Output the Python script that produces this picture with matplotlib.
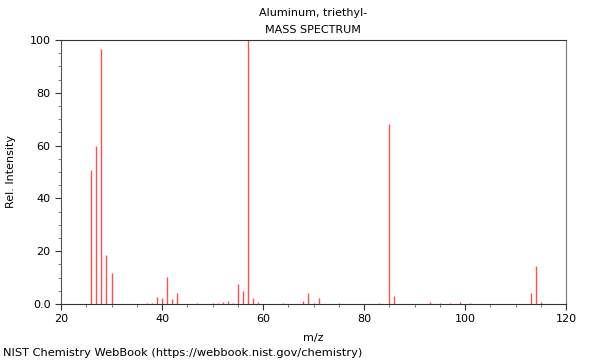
import matplotlib
matplotlib.use("Agg")
import matplotlib.pyplot as plt
from matplotlib.ticker import MultipleLocator, FixedLocator, FixedFormatter

title_compound = "Aluminum, triethyl-"
title_kind = "MASS SPECTRUM"
mz = [26, 27, 28, 29, 30, 37, 38, 39, 40, 41, 42, 43, 47, 50, 51, 52, 53, 54,
      55, 56, 57, 58, 59, 64, 68, 69, 70, 71, 75, 83, 85, 86, 93, 95, 97, 99,
      101, 113, 114, 115]
intensity = [50.8, 60.0, 96.6, 18.6, 11.7, 0.5, 0.4, 2.8, 2.3, 10.4, 2.0, 4.2,
             0.2, 0.3, 0.2, 0.6, 1.3, 0.5, 7.6, 5.0, 100.0, 2.3, 0.6, 0.3, 1.3,
             4.3, 0.3, 2.3, 0.4, 0.5, 68.2, 3.2, 0.9, 0.4, 0.2, 0.9, 0.2, 4.3,
             14.4, 0.9]
y_ticks = [0, 20, 40, 60, 80, 100]
y_tick_labels = ["0.0", "20", "40", "60", "80", "100"]
x_ticks = [20, 40, 60, 80, 100, 120]

fig = plt.figure(figsize=(6, 3.6), dpi=100)
ax = fig.add_axes([61/600, 56/360, 505/600, 264/360])
ax.vlines(mz, 0, intensity, colors="#ff5050", linewidth=1.0)
ax.set_xlim(20, 120)
ax.set_ylim(0, 100)
ax.xaxis.set_major_locator(FixedLocator(x_ticks))
ax.xaxis.set_minor_locator(MultipleLocator(5))
ax.yaxis.set_major_locator(FixedLocator(y_ticks))
ax.yaxis.set_major_formatter(FixedFormatter(y_tick_labels))
ax.yaxis.set_minor_locator(MultipleLocator(5))
ax.tick_params(axis="both", which="major", labelsize=8, length=4, width=0.8,
               color="#333333", direction="out")
ax.tick_params(axis="both", which="minor", length=2.5, width=0.6,
               color="#666666", direction="out")
for s in ["left", "bottom", "top", "right"]:
    ax.spines[s].set_linewidth(0.8)
ax.spines["left"].set_color("#555555")
ax.spines["right"].set_color("#777777")
ax.spines["top"].set_color("#333333")
ax.spines["bottom"].set_color("#333333")
ax.set_xlabel("m/z", fontsize=8, labelpad=6)
ax.set_ylabel("Rel. Intensity", fontsize=8, labelpad=10)

fig.text(313/600, 1 - 13/360, title_compound, ha="center", va="center", fontsize=8)
fig.text(313/600, 1 - 30/360, title_kind, ha="center", va="center", fontsize=8)
fig.text(3/600, 1 - 353/360, "NIST Chemistry WebBook (https://webbook.nist.gov/chemistry)",
         ha="left", va="center", fontsize=8.2)

fig.savefig("out.png", dpi=100)
